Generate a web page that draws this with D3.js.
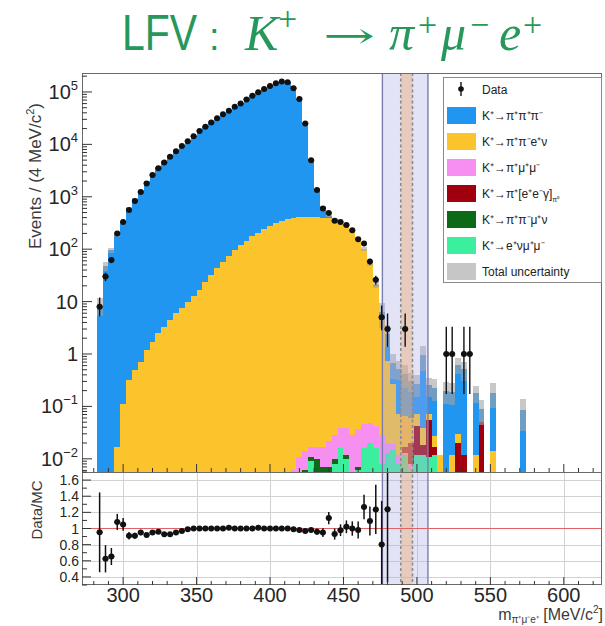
<!DOCTYPE html>
<html>
<head>
<meta charset="utf-8">
<script src="https://cdn.jsdelivr.net/npm/d3@7"></script>
<style>
  body { margin: 0; background: #fff; }
  svg { display: block; }
</style>
</head>
<body>
<svg id="chart" width="605" height="626"></svg>
<script>
// ---- Histogram bins (4 MeV/c^2 wide), bin centres in MeV/c^2 ----
const binCenters = [
  284, 288, 292, 296, 300, 304, 308, 312, 316, 320,
  324, 328, 332, 336, 340, 344, 348, 352, 356, 360,
  364, 368, 372, 376, 380, 384, 388, 392, 396, 400,
  404, 408, 412, 416, 420, 424, 428, 432, 436, 440,
  444, 448, 452, 456, 460, 464, 468, 472, 476, 480,
  484, 488, 492, 496, 500, 504, 508, 512, 516, 520,
  524, 528, 532, 536, 540, 544, 548, 552, 556, 560,
  564, 568, 572, 576
];

// Observed events per bin
const dataCounts = [
  8, 30, 62, 200, 330, 560, 830, 1230, 1800, 2600,
  3500, 4500, 5800, 7400, 9300, 11500, 14300, 18000, 21700, 26000,
  31500, 37500, 44000, 52000, 60000, 72000, 85000, 99000, 114000, 130000,
  147000, 158000, 153000, 118000, 73000, 25000, 5000, 1350, 600, 490,
  350, 330, 290, 230, 155, 128, 58, 26, 5, 3,
  0, 0, 3, 0, 0, 0, 0, 0, 0, 1,
  1, 0, 1, 1, 0, 0, 0, 0, 0, 0,
  0, 0, 0, 0
];

// Simulated backgrounds (expected events per bin)
const k3pi = [          // K+ -> pi+ pi+ pi-
  8.4, 48, 95, 185, 314, 615, 911, 1294, 1956, 2735,
  3644, 4836, 6233, 7783, 9580, 11606, 14287, 17983, 21676, 25968,
  31457, 37442, 43489, 51905, 59882, 71855, 84825, 97815, 113760, 129725,
  146690, 157655, 152630, 118802, 74085, 25358, 4687, 996, 232, 49,
  11, 2, 2, 2, 2, 2, 2, 1.5, 1.7, 1.7,
  0.4, 0.45, 0.35, 0.25, 0.2, 0.9, 0.18, 0.2, 0, 0.2,
  0.18, 0.6, 0.5, 0, 0.17, 0.04, 0, 0.17, 0, 0,
  0, 0, 0.085, 0
];
const ke4 = [           // K+ -> pi+ pi- e+ nu
  0, 0, 0, 0.017, 0.11, 0.32, 0.5, 0.7, 1.2, 1.7,
  2.5, 3.3, 4.5, 6, 7.6, 9.8, 13, 17, 24, 32,
  43, 58, 75, 95, 118, 145, 175, 205, 240, 275,
  310, 345, 370, 390, 405, 415, 415, 410, 400, 385,
  365, 335, 282, 228, 156, 99, 51, 19.5, 4.5, 0.7,
  0.25, 0.06, 0.05, 0.04, 0.03, 0.02, 0.015, 0.01, 0.008, 0,
  0.012, 0.01, 0, 0, 0.012, 0, 0, 0.014, 0, 0,
  0, 0, 0, 0
];
const kpimumu = [       // K+ -> pi+ mu+ mu-
  0, 0, 0, 0, 0, 0, 0, 0, 0, 0,
  0, 0, 0, 0, 0, 0, 0, 0, 0, 0,
  0, 0, 0, 0, 0, 0, 0, 0, 0, 0,
  0, 0.003, 0.004, 0.006, 0.007, 0.008, 0.006, 0.007, 0.01, 0.015,
  0.018, 0.022, 0.026, 0.024, 0.03, 0.03, 0.028, 0.026, 0.02, 0.007,
  0.004, 0.004, 0.001, 0.002, 0, 0, 0, 0, 0, 0,
  0, 0, 0, 0, 0, 0, 0, 0, 0, 0,
  0, 0, 0, 0
];
const pi0dalitz = [     // K+ -> pi+ [e+ e- gamma]_pi0
  0, 0, 0, 0, 0, 0, 0, 0, 0, 0,
  0, 0, 0, 0, 0, 0, 0, 0, 0, 0,
  0, 0, 0, 0, 0, 0, 0, 0, 0, 0,
  0, 0, 0, 0, 0, 0, 0, 0, 0, 0,
  0, 0, 0, 0, 0, 0, 0, 0, 0, 0,
  0, 0, 0.004, 0.012, 0.03, 0.006, 0.045, 0.005, 0, 0,
  0, 0.02, 0.012, 0, 0, 0.05, 0, 0, 0, 0,
  0, 0, 0, 0
];
const kmu4 = [          // K+ -> pi+ pi- mu+ nu
  0, 0, 0, 0, 0, 0, 0, 0, 0, 0,
  0, 0, 0, 0, 0, 0, 0, 0, 0, 0,
  0, 0, 0, 0, 0, 0, 0, 0, 0, 0,
  0, 0, 0, 0, 0.004, 0.006, 0.002, 0.006, 0.004, 0.003,
  0.002, 0, 0.002, 0, 0.001, 0, 0, 0, 0, 0,
  0, 0, 0, 0, 0, 0, 0, 0, 0, 0,
  0, 0, 0, 0, 0, 0, 0, 0, 0, 0,
  0, 0, 0, 0
];
const kenumumu = [      // K+ -> e+ nu mu+ mu-
  0, 0, 0, 0, 0, 0, 0, 0, 0, 0,
  0, 0, 0, 0, 0, 0, 0, 0, 0, 0,
  0, 0, 0, 0, 0, 0, 0, 0, 0, 0,
  0, 0, 0, 0, 0, 0, 0.009, 0.004, 0.003, 0.004,
  0.008, 0.016, 0.01, 0.004, 0.006, 0.016, 0.02, 0.016, 0.008, 0.013,
  0.015, 0.008, 0.012, 0.006, 0.012, 0.012, 0.011, 0.012, 0.004, 0,
  0, 0, 0, 0, 0, 0, 0, 0, 0, 0,
  0, 0, 0, 0
];
// Relative uncertainty of the total simulated expectation
const mcRelUnc = [
  0.38, 0.2, 0.1, 0.06, 0.05, 0.03, 0.02, 0.02, 0.015, 0.01,
  0.008, 0.008, 0.008, 0.008, 0.008, 0.008, 0.008, 0.008, 0.008, 0.008,
  0.005, 0.005, 0.005, 0.005, 0.005, 0.005, 0.005, 0.005, 0.005, 0.005,
  0.005, 0.005, 0.005, 0.005, 0.005, 0.008, 0.015, 0.03, 0.04, 0.05,
  0.05, 0.05, 0.05, 0.06, 0.07, 0.08, 0.1, 0.15, 0.5, 0.45,
  0.5, 0.4, 0.45, 0.4, 0.45, 0.5, 0.4, 0.45, 0, 0.45,
  0.45, 0.35, 0.4, 0, 0.35, 0.5, 0, 0.5, 0, 0,
  0, 0, 0.6, 0
];

const binWidth = 4;
// Control region and signal window (MeV/c^2)
const controlRegion = [476.5, 507.5];
const signalWindow = [489, 497];

const xTickMajor = [300, 350, 400, 450, 500, 550, 600];
const ratioTicks = [0.4, 0.6, 0.8, 1.0, 1.2, 1.4, 1.6];
const ratioTickLabels = ["0.4", "0.6", "0.8", "1", "1.2", "1.4", "1.6"];
const logDecades = [1e-2, 1e-1, 1, 10, 1e2, 1e3, 1e4, 1e5];
const logDecadeLabels = [["10", "\u22122"], ["10", "\u22121"], ["1", ""], ["10", ""],
                         ["10", "2"], ["10", "3"], ["10", "4"], ["10", "5"]];

// Stack order, bottom to top
const components = [
  { key: "kenumumu", values: kenumumu, color: "#3cef9f", label: "K\u207A\u2192e\u207A\u03BD\u03BC\u207A\u03BC\u207B" },
  { key: "kmu4", values: kmu4, color: "#0c6a16", label: "K\u207A\u2192\u03C0\u207A\u03C0\u207B\u03BC\u207A\u03BD" },
  { key: "kpimumu", values: kpimumu, color: "#f68ff0", label: "K\u207A\u2192\u03C0\u207A\u03BC\u207A\u03BC\u207B" },
  { key: "pi0dalitz", values: pi0dalitz, color: "#a0000e", label: "K\u207A\u2192\u03C0\u207A[e\u207Ae\u207B\u03B3]" },
  { key: "ke4", values: ke4, color: "#fbc42c", label: "K\u207A\u2192\u03C0\u207A\u03C0\u207Be\u207A\u03BD" },
  { key: "k3pi", values: k3pi, color: "#2196f1", label: "K\u207A\u2192\u03C0\u207A\u03C0\u207A\u03C0\u207B" }
];
const legendOrder = ["k3pi", "ke4", "kpimumu", "pi0dalitz", "kmu4", "kenumumu"];

// ---- Layout ----
const svg = d3.select("#chart");
const plotL = 82, plotR = 602, plotT = 73, splitY = 472, plotB = 585;

const x = d3.scaleLinear().domain([272, 626]).range([plotL, plotR]);
const y = d3.scaleLog().domain([0.0056, 2.3e5]).range([splitY, plotT]);
const yr = d3.scaleLinear().domain([0.3, 1.7]).range([plotB, splitY]);
const yMin = y.domain()[0];

const sansFont = "'Liberation Sans', Arial, Helvetica, sans-serif";
const textColor = "#262626";

const defs = svg.append("defs");
defs.append("clipPath").attr("id", "clipTop")
  .append("rect").attr("x", plotL).attr("y", plotT).attr("width", plotR - plotL).attr("height", splitY - plotT);
defs.append("clipPath").attr("id", "clipRatio")
  .append("rect").attr("x", plotL).attr("y", splitY).attr("width", plotR - plotL).attr("height", plotB - splitY);

// Table of bins with stacked contributions
const rows = binCenters.map((c, i) => {
  const r = { center: c, lo: c - binWidth / 2, hi: c + binWidth / 2, data: dataCounts[i], unc: mcRelUnc[i] };
  components.forEach(comp => { r[comp.key] = comp.values[i]; });
  return r;
});
const stacked = d3.stack().keys(components.map(c => c.key))(rows);
rows.forEach((r, i) => { r.mc = d3.sum(components, comp => comp.values[i]); });

// ---- Top panel: stacked histogram ----
const gTop = svg.append("g").attr("clip-path", "url(#clipTop)");
stacked.forEach((layer, li) => {
  gTop.append("g").attr("fill", components[li].color).attr("shape-rendering", "crispEdges")
    .selectAll("rect")
    .data(layer.filter(d => d[1] > yMin && d[1] > d[0]))
    .join("rect")
    .attr("x", d => x(d.data.lo))
    .attr("width", d => x(d.data.hi) - x(d.data.lo))
    .attr("y", d => y(d[1]))
    .attr("height", d => y(Math.max(d[0], yMin)) - y(d[1]));
});

// Total uncertainty boxes
gTop.append("g").attr("fill", "#a4a4a4").attr("fill-opacity", 0.6).attr("shape-rendering", "crispEdges")
  .selectAll("rect")
  .data(rows.filter(r => r.mc > 0 && r.unc > 0))
  .join("rect")
  .attr("x", r => x(r.lo))
  .attr("width", r => x(r.hi) - x(r.lo))
  .attr("y", r => y(r.mc * (1 + r.unc)))
  .attr("height", r => y(Math.max(r.mc * (1 - r.unc), yMin)) - y(r.mc * (1 + r.unc)));

// ---- Ratio panel grid ----
const gRatio = svg.append("g").attr("clip-path", "url(#clipRatio)");
gRatio.append("g").attr("stroke", "#d2d2d2").attr("stroke-width", 1)
  .selectAll("line").data(ratioTicks.filter(v => v !== 1.0)).join("line")
  .attr("x1", plotL).attr("x2", plotR)
  .attr("y1", d => Math.round(yr(d)) + 0.5).attr("y2", d => Math.round(yr(d)) + 0.5);
gRatio.append("g").attr("stroke", "#d2d2d2").attr("stroke-width", 1)
  .selectAll("line").data(xTickMajor).join("line")
  .attr("x1", d => Math.round(x(d)) + 0.5).attr("x2", d => Math.round(x(d)) + 0.5)
  .attr("y1", splitY).attr("y2", plotB);

// ---- Control region / signal window bands (both panels) ----
const gBand = svg.append("g");
gBand.append("rect")
  .attr("x", x(controlRegion[0])).attr("width", x(controlRegion[1]) - x(controlRegion[0]))
  .attr("y", plotT).attr("height", plotB - plotT)
  .attr("fill", "#a9a9e8").attr("fill-opacity", 0.33);
gBand.append("rect")
  .attr("x", x(signalWindow[0])).attr("width", x(signalWindow[1]) - x(signalWindow[0]))
  .attr("y", plotT).attr("height", plotB - plotT)
  .attr("fill", "#eba96c").attr("fill-opacity", 0.42);
gBand.selectAll("line.edge").data(controlRegion).join("line").attr("class", "edge")
  .attr("x1", d => x(d)).attr("x2", d => x(d)).attr("y1", plotT).attr("y2", plotB)
  .attr("stroke", "#7c7cae").attr("stroke-width", 1.4);
gBand.selectAll("line.win").data(signalWindow).join("line").attr("class", "win")
  .attr("x1", d => x(d)).attr("x2", d => x(d)).attr("y1", plotT).attr("y2", plotB)
  .attr("stroke", "#8c8c8c").attr("stroke-width", 1.6).attr("stroke-dasharray", "3,2.5");

// ---- Ratio reference line ----
svg.append("line")
  .attr("x1", plotL).attr("x2", plotR).attr("y1", yr(1)).attr("y2", yr(1))
  .attr("stroke", "#e06262").attr("stroke-width", 1.2);

// ---- Data points: top panel ----
const poisLo = { 1: 0.173, 2: 0.708, 3: 1.367, 4: 2.086, 5: 2.840, 6: 3.620, 7: 4.419, 8: 5.232 };
const poisHi = { 1: 3.300, 2: 4.638, 3: 5.918, 4: 7.163, 5: 8.382, 6: 9.584, 7: 10.77, 8: 11.95 };
const errLo = n => (n <= 8 ? poisLo[n] : n - Math.sqrt(n));
const errHi = n => (n <= 8 ? poisHi[n] : n + Math.sqrt(n));

const dataRows = rows.filter(r => r.data > 0);
const gData = svg.append("g").attr("clip-path", "url(#clipTop)");
gData.append("g").attr("stroke", "#111").attr("stroke-width", 1.4)
  .selectAll("line").data(dataRows).join("line")
  .attr("x1", r => x(r.center)).attr("x2", r => x(r.center))
  .attr("y1", r => y(Math.max(errLo(r.data), yMin))).attr("y2", r => y(errHi(r.data)));
gData.append("g").attr("stroke", "#111").attr("stroke-width", 1.4)
  .selectAll("line").data(dataRows).join("line")
  .attr("x1", r => x(r.lo)).attr("x2", r => x(r.hi))
  .attr("y1", r => y(r.data)).attr("y2", r => y(r.data));
gData.append("g").attr("fill", "#111")
  .selectAll("circle").data(dataRows).join("circle")
  .attr("cx", r => x(r.center)).attr("cy", r => y(r.data)).attr("r", 3);

// ---- Data points: ratio panel ----
const ratioRows = dataRows.filter(r => r.mc > 0).map(r => {
  const ratio = r.data / r.mc;
  const err = ratio * Math.sqrt(1 / r.data + r.unc * r.unc);
  return { ...r, ratio, err };
}).filter(r => r.ratio >= 0.3 && r.ratio <= 1.7);

const gRData = svg.append("g").attr("clip-path", "url(#clipRatio)");
gRData.append("g").attr("stroke", "#111").attr("stroke-width", 1.5)
  .selectAll("line").data(ratioRows).join("line")
  .attr("x1", r => x(r.center)).attr("x2", r => x(r.center))
  .attr("y1", r => yr(r.ratio - r.err)).attr("y2", r => yr(r.ratio + r.err));
gRData.append("g").attr("stroke", "#111").attr("stroke-width", 1.5)
  .selectAll("line").data(ratioRows).join("line")
  .attr("x1", r => x(r.lo)).attr("x2", r => x(r.hi))
  .attr("y1", r => yr(r.ratio)).attr("y2", r => yr(r.ratio));
gRData.append("g").attr("fill", "#111")
  .selectAll("circle").data(ratioRows).join("circle")
  .attr("cx", r => x(r.center)).attr("cy", r => yr(r.ratio)).attr("r", 3);

// ---- Frames ----
svg.append("rect").attr("x", plotL + 0.5).attr("y", plotT + 0.5)
  .attr("width", plotR - plotL - 1).attr("height", splitY - plotT)
  .attr("fill", "none").attr("stroke", "#6a6a6a").attr("stroke-width", 1);
svg.append("rect").attr("x", plotL + 0.5).attr("y", splitY + 0.5)
  .attr("width", plotR - plotL - 1).attr("height", plotB - splitY - 1)
  .attr("fill", "none").attr("stroke", "#6a6a6a").attr("stroke-width", 1);

// ---- Axes ticks ----
const tickG = svg.append("g").attr("stroke", "#333").attr("stroke-width", 1);
const xMinor = d3.range(280, 630, 10);
[splitY, plotB].forEach(base => {
  tickG.selectAll(null).data(xMinor).join("line")
    .attr("x1", d => x(d)).attr("x2", d => x(d))
    .attr("y1", base).attr("y2", d => base - (d % 50 === 0 ? 8 : 4));
});
// log y ticks (top panel)
const logMinor = [];
d3.range(-3, 6).forEach(e => d3.range(1, 10).forEach(m => {
  const v = m * Math.pow(10, e);
  if (v >= y.domain()[0] && v <= y.domain()[1]) logMinor.push({ v, major: m === 1 });
}));
tickG.selectAll(null).data(logMinor).join("line")
  .attr("x1", plotL).attr("x2", d => plotL + (d.major ? 10 : 5))
  .attr("y1", d => y(d.v)).attr("y2", d => y(d.v));
// ratio y ticks
const rMinor = d3.range(0.3, 1.71, 0.1).map(v => +v.toFixed(2));
tickG.selectAll(null).data(rMinor).join("line")
  .attr("x1", plotL).attr("x2", d => plotL + (Math.round(d * 10) % 2 === 0 ? 9 : 5))
  .attr("y1", d => yr(d)).attr("y2", d => yr(d));

// ---- Tick labels ----
const yLab = svg.append("g").attr("font-family", sansFont).attr("fill", textColor);
logDecades.forEach((v, i) => {
  const t = yLab.append("text").attr("x", 78).attr("y", y(v) + 7)
    .attr("text-anchor", "end").attr("font-size", 20);
  const [base, exp] = logDecadeLabels[i];
  t.append("tspan").text(base);
  if (exp) t.append("tspan").attr("font-size", 13).attr("dy", -9).text(exp);
});
ratioTicks.forEach((v, i) => {
  yLab.append("text").attr("x", 79).attr("y", yr(v) + 5)
    .attr("text-anchor", "end").attr("font-size", 14).text(ratioTickLabels[i]);
});
xTickMajor.forEach(v => {
  yLab.append("text").attr("x", x(v)).attr("y", 602)
    .attr("text-anchor", "middle").attr("font-size", 20).text(v);
});

// ---- Axis titles ----
const yTitle = svg.append("text")
  .attr("transform", "translate(41,176) rotate(-90)")
  .attr("text-anchor", "middle").attr("font-family", sansFont)
  .attr("font-size", 17).attr("fill", "#3a3a3a");
yTitle.append("tspan").text("Events / (4 MeV/c");
yTitle.append("tspan").attr("font-size", 11).attr("dy", -7).text("2");
yTitle.append("tspan").attr("dy", 7).text(")");

svg.append("text")
  .attr("transform", "translate(42,510) rotate(-90)")
  .attr("text-anchor", "middle").attr("font-family", sansFont)
  .attr("font-size", 15).attr("fill", "#3a3a3a").text("Data/MC");

const xTitle = svg.append("text")
  .attr("x", 603).attr("y", 620).attr("text-anchor", "end")
  .attr("font-family", sansFont).attr("font-size", 16).attr("fill", "#3a3a3a");
xTitle.append("tspan").text("m");
xTitle.append("tspan").attr("font-size", 10).attr("dy", 3).text("\u03C0\u207A\u03BC\u207Be\u207A");
xTitle.append("tspan").attr("dy", -3).text(" [MeV/c");
xTitle.append("tspan").attr("font-size", 10).attr("dy", -7).text("2");
xTitle.append("tspan").attr("dy", 7).text("]");

// ---- Legend ----
const lg = svg.append("g").attr("font-family", sansFont).attr("font-size", 12).attr("fill", "#222");
lg.append("rect").attr("x", 443.5).attr("y", 77.5).attr("width", 158).attr("height", 205)
  .attr("fill", "#fff").attr("stroke", "#8a8a8a").attr("stroke-width", 1);
const byKey = Object.fromEntries(components.map(c => [c.key, c]));
const legendRows = [{ type: "data", label: "Data" }]
  .concat(legendOrder.map(k => ({ type: "fill", color: byKey[k].color, label: byKey[k].label, key: k })))
  .concat([{ type: "fill", color: "#c6c6c6", label: "Total uncertainty" }]);
legendRows.forEach((d, i) => {
  const cy = 89 + i * 26;
  if (d.type === "data") {
    lg.append("line").attr("x1", 461).attr("x2", 461).attr("y1", cy - 7).attr("y2", cy + 7)
      .attr("stroke", "#111").attr("stroke-width", 1.4);
    lg.append("circle").attr("cx", 461).attr("cy", cy).attr("r", 2.8).attr("fill", "#111");
  } else {
    lg.append("rect").attr("x", 447).attr("y", cy - 8).attr("width", 29).attr("height", 17).attr("fill", d.color);
  }
  const t = lg.append("text").attr("x", 482).attr("y", cy + 4.5);
  t.append("tspan").text(d.label);
  if (d.key === "pi0dalitz") t.append("tspan").attr("font-size", 7).attr("dy", 4).text("\u03C0\u2070");
});

// ---- Title ----
const titleColor = "#27985b";
const mathFont = "'Liberation Serif', 'DejaVu Serif', serif";
const tg = svg.append("g").attr("fill", titleColor);
tg.append("text").attr("transform", "translate(122,50) scale(1,1.2)")
  .attr("font-family", sansFont).attr("font-size", 41).text("LFV");
tg.append("text").attr("x", 209).attr("y", 50).attr("font-family", sansFont)
  .attr("font-size", 38).text(":");
const titleGlyphs = [
  { t: "K", x: 245, y: 50, size: 50, italic: true, font: mathFont },
  { t: "+", x: 278, y: 30, size: 34, italic: false, font: mathFont },
  { t: "\u2192", x: 323, y: 48, size: 36, italic: false, font: "'DejaVu Serif', serif", len: 52 },
  { t: "\u03C0", x: 389, y: 50, size: 50, italic: true, font: mathFont },
  { t: "+", x: 418, y: 36, size: 34, italic: false, font: mathFont },
  { t: "\u03BC", x: 441, y: 50, size: 50, italic: true, font: mathFont },
  { t: "\u2212", x: 470, y: 36, size: 34, italic: false, font: mathFont },
  { t: "e", x: 499, y: 50, size: 50, italic: true, font: mathFont },
  { t: "+", x: 523, y: 36, size: 34, italic: false, font: mathFont }
];
titleGlyphs.forEach(g => {
  const el = tg.append("text").attr("x", g.x).attr("y", g.y)
    .attr("font-family", g.font).attr("font-size", g.size)
    .attr("font-style", g.italic ? "italic" : "normal").text(g.t);
  if (g.len) el.attr("textLength", g.len).attr("lengthAdjust", "spacingAndGlyphs");
});
</script>
</body>
</html>
